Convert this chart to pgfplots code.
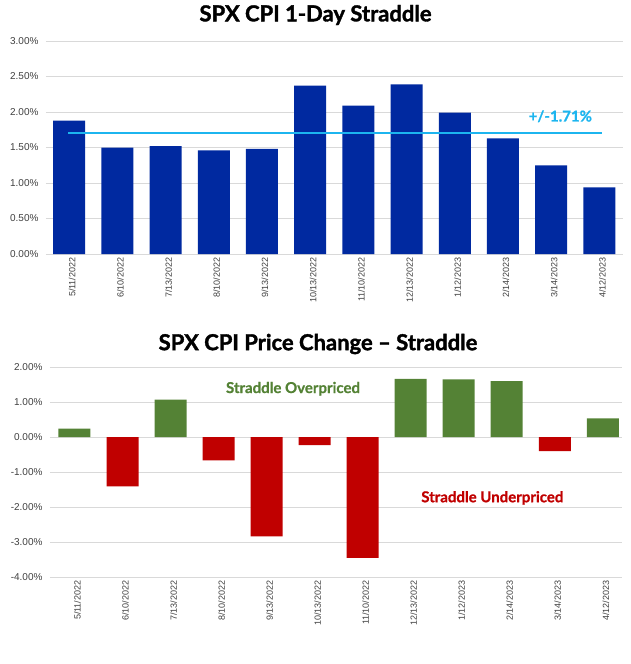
\documentclass[border=0pt]{standalone}
\usepackage{fontspec}
\setmainfont{Liberation Sans}
\newfontfamily\titlefont{Lato}[BoldFeatures={FakeBold=1.6}]
\newfontfamily\notefont{Lato}[BoldFeatures={FakeBold=0.8}]
\usepackage{pgfplots}
\pgfplotsset{compat=1.18}
\usepackage{pgfplotstable}

\definecolor{barblue}{RGB}{0,41,160}
\definecolor{lineblue}{RGB}{28,181,239}
\definecolor{posgreen}{RGB}{84,130,53}
\definecolor{negred}{RGB}{192,0,0}
\definecolor{ticktext}{RGB}{64,64,64}
\definecolor{gridgray}{RGB}{217,217,217}

\pgfplotstableread{
x val
0 1.88
1 1.50
2 1.52
3 1.46
4 1.48
5 2.37
6 2.09
7 2.39
8 1.99
9 1.63
10 1.25
11 0.94
}\straddle

\pgfplotstableread{
x val
0 0.24
2 1.07
7 1.66
8 1.65
9 1.60
11 0.53
}\overpriced

\pgfplotstableread{
x val
1 -1.41
3 -0.67
4 -2.84
5 -0.23
6 -3.45
10 -0.40
}\underpriced

\pgfplotsset{mystyle/.style={
  scale only axis,
  axis line style={draw=none},
  major tick length=0pt,
  ymajorgrids, grid style={gridgray, line width=0.7pt},
  xtick={0,...,11},
  xticklabels={5/11/2022,6/10/2022,7/13/2022,8/10/2022,9/13/2022,10/13/2022,11/10/2022,12/13/2022,1/12/2023,2/14/2023,3/14/2023,4/12/2023},
  x tick label style={rotate=90, anchor=east, font=\fontsize{9}{10}\selectfont, text=ticktext, yshift=-3pt},
  y tick label style={font=\fontsize{10}{11}\selectfont, text=ticktext, xshift=-4pt},
  /pgf/number format/assume math mode=true,
  yticklabel={\pgfmathprintnumber[fixed, fixed zerofill, precision=2]{\tick}\%},
  bar width=32pt, bar shift=0pt,
  title style={font=\titlefont\bfseries\fontsize{22}{24}\selectfont, at={(0.5,1)}, anchor=center},
  clip=false,
}}

\begin{document}
\begin{tikzpicture}
\path[use as bounding box] (-46pt,41pt) rectangle (584pt,-623pt);

\begin{axis}[mystyle, at={(0pt,0pt)}, anchor=north west,
  width=577pt, xmin=-0.48, xmax=11.49,
  height=213pt, ymin=0, ymax=3, ytick={0,0.5,...,3},
  title={SPX CPI 1-Day Straddle}, title style={yshift=20pt, xshift=-19pt}]
\addplot[ybar, fill=barblue, draw=none] table[x=x, y=val] {\straddle};
\addplot[sharp plot, lineblue, line width=2pt] coordinates {(-0.02,1.71) (11.06,1.71)};
\node[font=\notefont\bfseries\fontsize{15}{16}\selectfont, text=lineblue] at (axis cs:10.19,1.94) {+/-1.71\%};
\end{axis}

\begin{axis}[mystyle, at={(4pt,-326pt)}, anchor=north west,
  width=572pt, xmin=-0.51, xmax=11.4,
  height=210pt, ymin=-4, ymax=2, ytick={-4,-3,...,2},
  title={SPX CPI Price Change – Straddle}, title style={yshift=17pt, xshift=-18pt}]
\addplot[ybar, fill=posgreen, draw=none] table[x=x, y=val] {\overpriced};
\addplot[ybar, fill=negred, draw=none] table[x=x, y=val] {\underpriced};
\node[font=\notefont\bfseries\fontsize{15}{16}\selectfont, text=posgreen] at (axis cs:4.55,1.38) {Straddle Overpriced};
\node[font=\notefont\bfseries\fontsize{15}{16}\selectfont, text=negred] at (axis cs:8.7,-1.74) {Straddle Underpriced};
\end{axis}
\end{tikzpicture}
\end{document}
